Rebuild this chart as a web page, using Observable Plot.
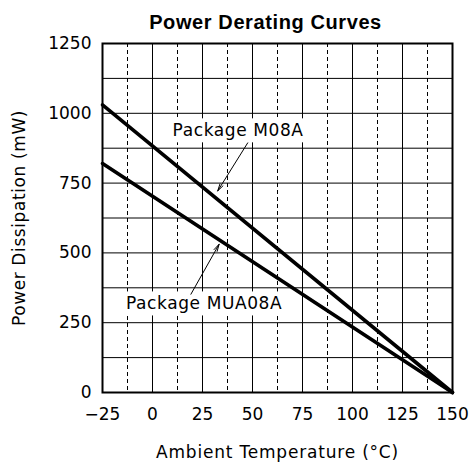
<!DOCTYPE html>
<html>
<head>
<meta charset="utf-8">
<script src="https://cdn.jsdelivr.net/npm/d3@7"></script>
<script src="https://cdn.jsdelivr.net/npm/@observablehq/plot@0.6"></script>
<style>
  html, body { margin: 0; padding: 0; background: #fff; }
  #chart svg { display: block; }
  .pkg-label text { letter-spacing: 0.6px; }
  .y-label text { letter-spacing: 0.6px; }
  .x-label text { letter-spacing: 0.8px; }
  .title-label text { letter-spacing: 0.6px; }
</style>
</head>
<body>
<div id="chart"></div>
<script>
const title = "Power Derating Curves";
const xLabel = "Ambient Temperature (°C)";
const yLabel = "Power Dissipation (mW)";

const tempTicks = [-25, 0, 25, 50, 75, 100, 125, 150];
const powerTicks = [0, 250, 500, 750, 1000, 1250];
const solidGridX = [0, 25, 50, 75, 100, 125];
const dashedGridX = [-12.5, 12.5, 37.5, 62.5, 87.5, 112.5, 137.5];
const gridY = [125, 250, 375, 500, 625, 750, 875, 1000, 1125];

const m08aTemp = [-25, 150];
const m08aPower = [1030, 0];
const mua08aTemp = [-25, 150];
const mua08aPower = [820, 0];

const labelText = ["Package M08A", "Package MUA08A"];
const labelX = [42.8, 25.8];
const labelY = [937, 317];

const arrowX1 = [47.6, 19.2];
const arrowY1 = [894, 352];
const arrowX2 = [32.6, 33.3];
const arrowY2 = [722, 531];

const m08a = m08aTemp.map((t, i) => ({t, p: m08aPower[i]}));
const mua08a = mua08aTemp.map((t, i) => ({t, p: mua08aPower[i]}));
const labels = labelText.map((s, i) => ({s, x: labelX[i], y: labelY[i]}));
const arrows = arrowX1.map((x1, i) => ({x1, y1: arrowY1[i], x2: arrowX2[i], y2: arrowY2[i]}));

const plot = Plot.plot({
  width: 469,
  height: 465,
  marginLeft: 102,
  marginRight: 17,
  marginTop: 43,
  marginBottom: 73,
  style: {fontFamily: "'DejaVu Sans', sans-serif", fontSize: "17px", color: "#000", background: "#fff"},
  x: {domain: [-25, 150]},
  y: {domain: [0, 1250]},
  marks: [
    Plot.ruleX(dashedGridX, {stroke: "#000", strokeWidth: 1, strokeDasharray: "4,3"}),
    Plot.ruleX(solidGridX, {stroke: "#000", strokeWidth: 1}),
    Plot.ruleY(gridY, {stroke: "#000", strokeWidth: 1}),
    Plot.text(labels, {x: "x", y: "y", text: "s", fill: "#000", fontSize: 17, className: "pkg-label"}),
    Plot.line(m08a, {x: "t", y: "p", stroke: "#000", strokeWidth: 3.6}),
    Plot.line(mua08a, {x: "t", y: "p", stroke: "#000", strokeWidth: 3.6}),
    Plot.arrow(arrows, {x1: "x1", y1: "y1", x2: "x2", y2: "y2", stroke: "#000", strokeWidth: 1, headLength: 11, headAngle: 28}),
    Plot.frame({stroke: "#000", strokeWidth: 2}),
    Plot.axisX({ticks: tempTicks, tickSize: 0, tickPadding: 15, label: null, fontSize: 17, tickFormat: d => d < 0 ? "−" + Math.abs(d) : String(d)}),
    Plot.axisY({ticks: powerTicks, tickSize: 0, tickPadding: 11, label: null, fontSize: 17, tickFormat: d => String(d)}),
    Plot.text([xLabel], {frameAnchor: "bottom", lineAnchor: "middle", textAnchor: "middle", dy: 60, fontSize: 17, fill: "#000", className: "x-label"}),
    Plot.text([yLabel], {frameAnchor: "left", lineAnchor: "middle", textAnchor: "middle", dx: -83, rotate: -90, fontSize: 17, fill: "#000", className: "y-label"}),
    Plot.text([title], {frameAnchor: "top", lineAnchor: "middle", textAnchor: "middle", dy: -21, dx: -12, fontSize: 20, fontWeight: "bold", fill: "#000", fontFamily: "'Liberation Sans', Arial, sans-serif", className: "title-label"})
  ]
});

document.getElementById("chart").appendChild(plot);

// white boxes behind the package labels
const g = plot.querySelector(".pkg-label");
if (g) {
  const texts = g.tagName.toLowerCase() === "text" ? [g] : Array.from(g.querySelectorAll("text"));
  texts.forEach(t => {
    const b = t.getBBox();
    const r = document.createElementNS("http://www.w3.org/2000/svg", "rect");
    r.setAttribute("x", b.x - 3);
    r.setAttribute("y", b.y - 2);
    r.setAttribute("width", b.width + 6);
    r.setAttribute("height", b.height + 4);
    r.setAttribute("fill", "#fff");
    const tr = t.getAttribute("transform");
    if (tr) r.setAttribute("transform", tr);
    t.parentNode.insertBefore(r, t);
  });
}
</script>
</body>
</html>
